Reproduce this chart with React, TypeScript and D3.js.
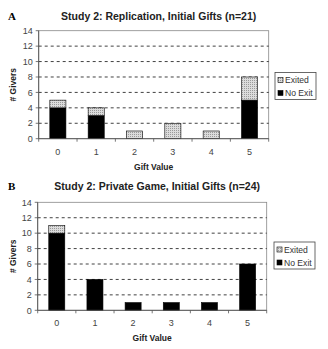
import React from "react";
import * as d3 from "d3";

const categories = ["0", "1", "2", "3", "4", "5"];
const yTicks = [0, 2, 4, 6, 8, 10, 12, 14];
const titleA = "Study 2: Replication, Initial Gifts (n=21)";
const titleB = "Study 2: Private Game, Initial Gifts (n=24)";
const noExitA = [4, 3, 0, 0, 0, 5];
const exitedA = [1, 1, 1, 2, 1, 3];
const noExitB = [10, 4, 1, 1, 1, 6];
const exitedB = [1, 0, 0, 0, 0, 0];
const seriesNames = ["Exited", "No Exit"];

type PanelProps = {
  top: number;
  letter: string;
  title: string;
  noExit: number[];
  exited: number[];
  left: number;
  right: number;
  plotTop: number;
  plotBottom: number;
  legendX: number;
  legendY: number;
};

function Panel(p: PanelProps) {
  const x = d3.scaleBand<string>().domain(categories).range([p.left, p.right]).paddingInner(0.58).paddingOuter(0.29);
  const y = d3.scaleLinear().domain([0, 14]).range([p.plotBottom, p.plotTop]);
  const band = d3.scaleBand<string>().domain(categories).range([p.left, p.right]);
  const font = "'Liberation Sans', Arial, sans-serif";
  return (
    <g>
      <text x={8} y={p.top + 20} fontFamily="'Liberation Serif', serif" fontWeight="bold" fontSize={11}>{p.letter}</text>
      <text x={(p.left + p.right) / 2 + 5} y={p.top + 20} textAnchor="middle" fontFamily={font} fontWeight="bold" fontSize={10.5} fill="#222">{p.title}</text>
      <rect x={p.left} y={p.plotTop} width={p.right - p.left} height={p.plotBottom - p.plotTop} fill="white" stroke="#888" strokeWidth={0.8} />
      {yTicks.filter(t => t > 0 && t < 14).map(t => (
        <line key={t} x1={p.left} x2={p.right} y1={y(t)} y2={y(t)} stroke="#111" strokeWidth={0.8} strokeDasharray="3,3" />
      ))}
      {categories.map((c, i) => {
        const bx = x(c)!;
        const w = x.bandwidth();
        return (
          <g key={c}>
            {p.noExit[i] > 0 && <rect x={bx} y={y(p.noExit[i])} width={w} height={y(0) - y(p.noExit[i])} fill="#000" stroke="#000" strokeWidth={0.6} />}
            {p.exited[i] > 0 && <rect x={bx} y={y(p.noExit[i] + p.exited[i])} width={w} height={y(p.noExit[i]) - y(p.noExit[i] + p.exited[i])} fill="url(#dots)" stroke="#000" strokeWidth={0.6} />}
          </g>
        );
      })}
      <line x1={p.left} x2={p.left} y1={p.plotTop} y2={p.plotBottom} stroke="#555" strokeWidth={0.9} />
      <line x1={p.left} x2={p.right} y1={p.plotBottom} y2={p.plotBottom} stroke="#555" strokeWidth={0.9} />
      {yTicks.map(t => (
        <g key={t}>
          <line x1={p.left - 3} x2={p.left} y1={y(t)} y2={y(t)} stroke="#555" strokeWidth={0.8} />
          <text x={p.left - 6} y={y(t) + 3.2} textAnchor="end" fontFamily={font} fontSize={9} fill="#444">{t}</text>
        </g>
      ))}
      {categories.map((c, i) => (
        <g key={c}>
          <line x1={band(c)!} x2={band(c)!} y1={p.plotBottom} y2={p.plotBottom + 3} stroke="#555" strokeWidth={0.8} />
          {i === categories.length - 1 && <line x1={p.right} x2={p.right} y1={p.plotBottom} y2={p.plotBottom + 3} stroke="#555" strokeWidth={0.8} />}
          <text x={band(c)! + band.bandwidth() / 2} y={p.plotBottom + 16} textAnchor="middle" fontFamily={font} fontSize={9} fill="#444">{c}</text>
        </g>
      ))}
      <text x={(p.left + p.right) / 2} y={p.plotBottom + 31} textAnchor="middle" fontFamily={font} fontWeight="bold" fontSize={8.5} fill="#222">Gift Value</text>
      <text transform={`translate(16,${(p.plotTop + p.plotBottom) / 2}) rotate(-90)`} textAnchor="middle" fontFamily={font} fontWeight="bold" fontSize={8.5} fill="#222"># Givers</text>
      <rect x={p.legendX} y={p.legendY} width={41} height={27} fill="white" stroke="#444" strokeWidth={0.8} />
      {seriesNames.map((s, i) => (
        <g key={s}>
          <rect x={p.legendX + 3} y={p.legendY + 5 + i * 13} width={5} height={5} fill={i === 0 ? "url(#dots)" : "#000"} stroke="#000" strokeWidth={0.6} />
          <text x={p.legendX + 10} y={p.legendY + 10.5 + i * 13} fontFamily={font} fontSize={8.6} fill="#333">{s}</text>
        </g>
      ))}
    </g>
  );
}

export default function App() {
  return (
    <svg width={328} height={349} style={{ position: "absolute", left: 0, top: 0, background: "white" }}>
      <defs>
        <pattern id="dots" width={2} height={2} patternUnits="userSpaceOnUse">
          <rect width={2} height={2} fill="#dcdcdc" />
          <rect width={1} height={1} fill="#9a9a9a" />
        </pattern>
      </defs>
      <rect width={328} height={349} fill="white" />
      <Panel top={0} letter="A" title={titleA} noExit={noExitA} exited={exitedA} left={38.7} right={268.7} plotTop={30.7} plotBottom={138.7} legendX={275} legendY={72.5} />
      <Panel top={170} letter="B" title={titleB} noExit={noExitB} exited={exitedB} left={37.7} right={266.7} plotTop={202.3} plotBottom={310.3} legendX={274} legendY={242} />
    </svg>
  );
}
